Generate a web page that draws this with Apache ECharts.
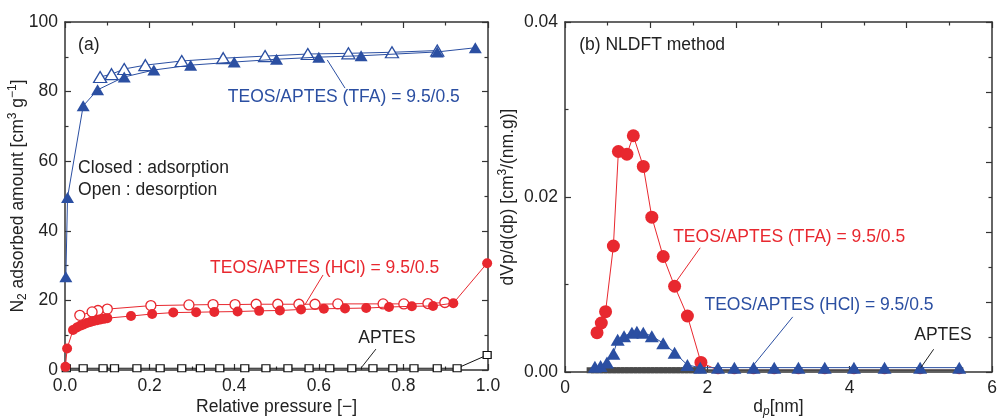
<!DOCTYPE html>
<html>
<head>
<meta charset="utf-8">
<script src="https://cdn.jsdelivr.net/npm/echarts@6/dist/echarts.min.js"></script>
<style>
  html, body { margin: 0; padding: 0; background: #fff; }
  #chart { width: 998px; height: 418px; }
</style>
</head>
<body>
<div id="chart"></div>
<script>
// ---- (a) N2 isotherms: [relative pressure, adsorbed amount (cm3/g)] ----
const tfaAdsorption = [[0.002,26.8],[0.006,49.6],[0.043,75.9],[0.077,80.5],[0.14,84.2],[0.21,86.2],
  [0.297,87.6],[0.40,88.5],[0.50,89.3],[0.60,89.9],[0.70,90.3],[0.88,91.4],[0.97,92.6]];
const tfaDesorption = [[0.88,91.8],[0.773,91.3],[0.67,91.0],[0.574,90.8],[0.473,90.2],[0.374,89.6],
  [0.276,88.8],[0.19,87.6],[0.14,86.5],[0.11,85.0],[0.083,84.2]];
const hclAdsorption = [[0.001,0.9],[0.005,6.2],[0.019,11.5],[0.028,12.2],[0.036,12.7],[0.044,13.1],
  [0.052,13.5],[0.060,13.8],[0.068,14.1],[0.076,14.3],[0.084,14.5],[0.092,14.7],[0.100,14.9],
  [0.156,15.5],[0.206,16.1],[0.256,16.5],[0.31,16.6],[0.353,16.7],[0.408,16.8],[0.459,17.0],
  [0.508,17.1],[0.558,17.4],[0.612,17.6],[0.662,17.7],[0.712,17.8],[0.766,18.1],[0.82,18.3],
  [0.87,18.4],[0.918,19.2],[0.998,30.7]];
const hclDesorption = [[0.898,19.4],[0.858,19.1],[0.801,19.0],[0.752,19.0],[0.645,19.0],[0.591,18.9],
  [0.553,18.9],[0.503,18.9],[0.452,18.9],[0.402,18.8],[0.35,18.8],[0.293,18.7],[0.203,18.5],
  [0.1,17.5],[0.078,17.1],[0.064,16.7],[0.035,15.7]];
const aptesIsotherm = [[0.003,0.5],[0.043,0.5],[0.09,0.5],[0.117,0.5],[0.17,0.5],[0.225,0.5],
  [0.276,0.5],[0.32,0.5],[0.366,0.5],[0.425,0.5],[0.475,0.5],[0.527,0.5],[0.577,0.5],[0.626,0.5],
  [0.678,0.5],[0.728,0.5],[0.775,0.5],[0.825,0.5],[0.88,0.5],[0.927,0.5],[0.998,4.3]];

// ---- (b) NLDFT pore size distributions: [dp (nm), dVp/d(dp)] ----
const tfaPsd = [[0.45,0.0045],[0.51,0.0056],[0.57,0.0069],[0.68,0.0144],[0.75,0.0252],[0.87,0.0249],
  [0.96,0.0270],[1.10,0.0235],[1.22,0.0177],[1.38,0.0132],[1.54,0.0098],[1.72,0.0064],[1.91,0.0011],
  [2.15,0.0002],[2.38,0.0002],[2.65,0.0002],[2.94,0.0002],[3.28,0.0002],[3.65,0.0002],[4.06,0.0002],
  [4.49,0.0002],[4.99,0.0002],[5.54,0.0002]];
const hclPsd = [[0.42,0.0006],[0.50,0.0007],[0.59,0.0011],[0.68,0.0021],[0.74,0.0037],[0.83,0.0041],
  [0.94,0.0045],[1.01,0.0046],[1.10,0.0045],[1.22,0.0041],[1.38,0.0033],[1.54,0.0022],[1.72,0.0008],
  [1.90,0.0005],[2.15,0.0005],[2.38,0.0005],[2.65,0.0005],[2.94,0.0005],[3.28,0.0005],[3.65,0.0005],
  [4.06,0.0005],[4.49,0.0005],[4.99,0.0005],[5.54,0.0005]];
const aptesPsd = [[0.36,0.0002],[0.42,0.0002],[0.48,0.0002],[0.54,0.0002],[0.60,0.0002],[0.66,0.0002],
  [0.72,0.0002],[0.78,0.0002],[0.84,0.0002],[0.90,0.0002],[0.96,0.0002],[1.02,0.0002],[1.08,0.0002],
  [1.14,0.0002],[1.20,0.0002],[1.26,0.0002],[1.32,0.0002],[1.38,0.0002],[1.44,0.0002],[1.50,0.0002],
  [1.56,0.0002],[1.62,0.0002],[1.68,0.0002],[1.74,0.0002],[1.80,0.0002],[1.86,0.0002],[1.92,0.0002],
  [2.15,0.0002],[2.38,0.0002],[2.65,0.0002],[2.94,0.0002],[3.28,0.0002],[3.65,0.0002],[4.06,0.0002],
  [4.49,0.0002],[4.99,0.0002],[5.54,0.0002]];

// ---- text labels ----
const labelTfa = 'TEOS/APTES (TFA) = 9.5/0.5';
const labelHcl = 'TEOS/APTES (HCl) = 9.5/0.5';
const labelAptes = 'APTES';

const BLUE = '#2b4fa2';
const RED = '#e8282f';
const INK = '#222';
const AXIS = '#333';
const FONT = '"Liberation Sans", Arial, sans-serif';
const FS = 17.5;

const chart = echarts.init(document.getElementById('chart'), null, { renderer: 'canvas' });

function frameAxis(o) {
  return Object.assign({
    type: 'value',
    nameMoveOverlap: false,
    axisLine: { show: true, onZero: false, lineStyle: { color: AXIS, width: 1.5 } },
    axisTick: { show: true, inside: true, length: 6, lineStyle: { color: AXIS, width: 1.2 } },
    minorTick: { show: true, splitNumber: 2, length: 3.5, lineStyle: { color: AXIS, width: 1.2 } },
    splitLine: { show: false },
    minorSplitLine: { show: false },
    axisLabel: { show: true, color: INK, fontSize: FS, fontFamily: FONT, margin: 7 },
    nameTextStyle: {
      color: INK, fontSize: FS, fontFamily: FONT, lineHeight: 22,
      rich: {
        sub: { fontSize: 12, fontFamily: FONT, color: INK, lineHeight: 12, verticalAlign: 'bottom' },
        subi: { fontSize: 12, fontFamily: FONT, color: INK, lineHeight: 12, verticalAlign: 'bottom', fontStyle: 'italic' },
        sup: { fontSize: 12, fontFamily: FONT, color: INK, lineHeight: 12, verticalAlign: 'top' }
      }
    }
  }, o);
}
const hidden = { show: false };

const option = {
  animation: false,
  backgroundColor: '#fff',
  grid: [
    { left: 65, right: 510, top: 22, bottom: 48, containLabel: false, outerBoundsMode: 'none' },
    { left: 565, right: 6, top: 22, bottom: 46, containLabel: false, outerBoundsMode: 'none' }
  ],
  xAxis: [
    frameAxis({ gridIndex: 0, position: 'bottom', min: 0, max: 1, interval: 0.2,
      axisLabel: { color: INK, fontSize: FS, fontFamily: FONT, margin: 7, formatter: v => v.toFixed(1) },
      name: 'Relative pressure [\u2212]', nameLocation: 'middle', nameGap: 26 }),
    frameAxis({ gridIndex: 0, position: 'top', min: 0, max: 1, interval: 0.2, axisLabel: hidden }),
    frameAxis({ gridIndex: 1, position: 'bottom', min: 0, max: 6, interval: 2,
      name: 'd{subi|p}[nm]', nameLocation: 'middle', nameGap: 24 }),
    frameAxis({ gridIndex: 1, position: 'top', min: 0, max: 6, interval: 1.2, axisLabel: hidden })
  ],
  yAxis: [
    frameAxis({ gridIndex: 0, position: 'left', min: 0, max: 100, interval: 20,
      name: 'N{sub|2} adsorbed amount [cm{sup|3} g{sup|\u22121}]', nameLocation: 'middle', nameGap: 36 }),
    frameAxis({ gridIndex: 0, position: 'right', min: 0, max: 100, interval: 20, axisLabel: hidden }),
    frameAxis({ gridIndex: 1, position: 'left', min: 0, max: 0.04, interval: 0.02,
      axisLabel: { color: INK, fontSize: FS, fontFamily: FONT, margin: 7, formatter: v => v.toFixed(2) },
      name: 'dVp/d(dp) [cm{sup|3}/(nm.g)]', nameLocation: 'middle', nameGap: 46 }),
    frameAxis({ gridIndex: 1, position: 'right', min: 0, max: 0.04, interval: 0.008, axisLabel: hidden })
  ],
  series: [
    { type: 'line', name: 'TFA adsorption', xAxisIndex: 0, yAxisIndex: 0, data: tfaAdsorption,
      symbol: 'triangle', symbolSize: [13, 11], z: 4,
      itemStyle: { color: BLUE }, lineStyle: { color: BLUE, width: 1 } },
    { type: 'line', name: 'TFA desorption', xAxisIndex: 0, yAxisIndex: 0, data: tfaDesorption,
      symbol: 'triangle', symbolSize: [13, 11], showAllSymbol: true, z: 3,
      itemStyle: { color: '#fff', borderColor: BLUE, borderWidth: 1.3 }, lineStyle: { color: BLUE, width: 1 } },
    { type: 'line', name: 'HCl adsorption', xAxisIndex: 0, yAxisIndex: 0, data: hclAdsorption,
      symbol: 'circle', symbolSize: 10, showAllSymbol: true, z: 4,
      itemStyle: { color: RED }, lineStyle: { color: RED, width: 1 } },
    { type: 'line', name: 'HCl desorption', xAxisIndex: 0, yAxisIndex: 0, data: hclDesorption,
      symbol: 'circle', symbolSize: 10, showAllSymbol: true, z: 3,
      itemStyle: { color: '#fff', borderColor: RED, borderWidth: 1.3 }, lineStyle: { color: RED, width: 1 } },
    { type: 'line', name: 'APTES isotherm', xAxisIndex: 0, yAxisIndex: 0, data: aptesIsotherm,
      symbol: 'rect', symbolSize: [8, 7], showAllSymbol: true, z: 3,
      itemStyle: { color: '#fff', borderColor: '#111', borderWidth: 1.2 }, lineStyle: { color: '#111', width: 1 } },

    { type: 'line', name: 'TFA PSD', xAxisIndex: 2, yAxisIndex: 2, data: tfaPsd,
      symbol: 'circle', symbolSize: v => (v[1] < 0.001 ? 8 : 13), showAllSymbol: true, z: 2,
      itemStyle: { color: RED }, lineStyle: { color: RED, width: 1 } },
    { type: 'line', name: 'APTES PSD', xAxisIndex: 2, yAxisIndex: 2, data: aptesPsd,
      symbol: 'rect', symbolSize: [8, 6], showAllSymbol: true, z: 3,
      itemStyle: { color: '#4a4a4a' }, lineStyle: { color: '#4a4a4a', width: 2 } },
    { type: 'line', name: 'HCl PSD', xAxisIndex: 2, yAxisIndex: 2, data: hclPsd,
      symbol: 'triangle', symbolSize: [14, 12], showAllSymbol: true, z: 4,
      itemStyle: { color: BLUE }, lineStyle: { color: BLUE, width: 1 } }
  ]
};
chart.setOption(option);

// ---- annotations placed in data coordinates of each panel ----
const notes = [
  { g: 0, text: '(a)', at: [0.031, 93.4], color: INK },
  { g: 0, text: labelTfa, at: [0.385, 78.4], color: BLUE },
  { g: 0, text: 'Closed : adsorption', at: [0.031, 58.0], color: INK },
  { g: 0, text: 'Open : desorption', at: [0.031, 51.7], color: INK },
  { g: 0, text: labelHcl, at: [0.343, 29.3], color: RED },
  { g: 0, text: labelAptes, at: [0.761, 9.2], color: INK, align: 'center' },
  { g: 1, text: '(b) NLDFT method', at: [0.2, 0.0374], color: INK },
  { g: 1, text: labelTfa, at: [1.52, 0.0154], color: RED },
  { g: 1, text: labelHcl, at: [1.96, 0.00766], color: BLUE },
  { g: 1, text: labelAptes, at: [5.31, 0.0042], color: INK, align: 'center' }
];
const leaders = [
  { g: 0, from: [0.662, 81.0], to: [0.62, 89.1], color: BLUE },
  { g: 0, from: [0.61, 27.3], to: [0.567, 18.7], color: RED },
  { g: 0, from: [0.735, 6.0], to: [0.702, 0.9], color: INK },
  { g: 1, from: [1.90, 0.0142], to: [1.55, 0.0102], color: RED },
  { g: 1, from: [3.20, 0.0063], to: [2.63, 0.0006], color: BLUE },
  { g: 1, from: [5.18, 0.0026], to: [5.0, 0.0005], color: INK }
];

function px(g, pt) {
  return chart.convertToPixel({ xAxisIndex: g * 2, yAxisIndex: g * 2 }, pt);
}

const graphics = [];
leaders.forEach(l => {
  const a = px(l.g, l.from), b = px(l.g, l.to);
  graphics.push({ type: 'line', z: 10, silent: true,
    shape: { x1: a[0], y1: a[1], x2: b[0], y2: b[1] },
    style: { stroke: l.color, lineWidth: 1 } });
});
notes.forEach(n => {
  const p = px(n.g, n.at);
  graphics.push({ type: 'text', z: 10, silent: true, x: p[0], y: p[1],
    style: { text: n.text, fill: n.color, fontSize: FS, fontFamily: FONT,
      textAlign: n.align || 'left', textVerticalAlign: 'middle' } });
});
chart.setOption({ graphic: graphics });
</script>
</body>
</html>
